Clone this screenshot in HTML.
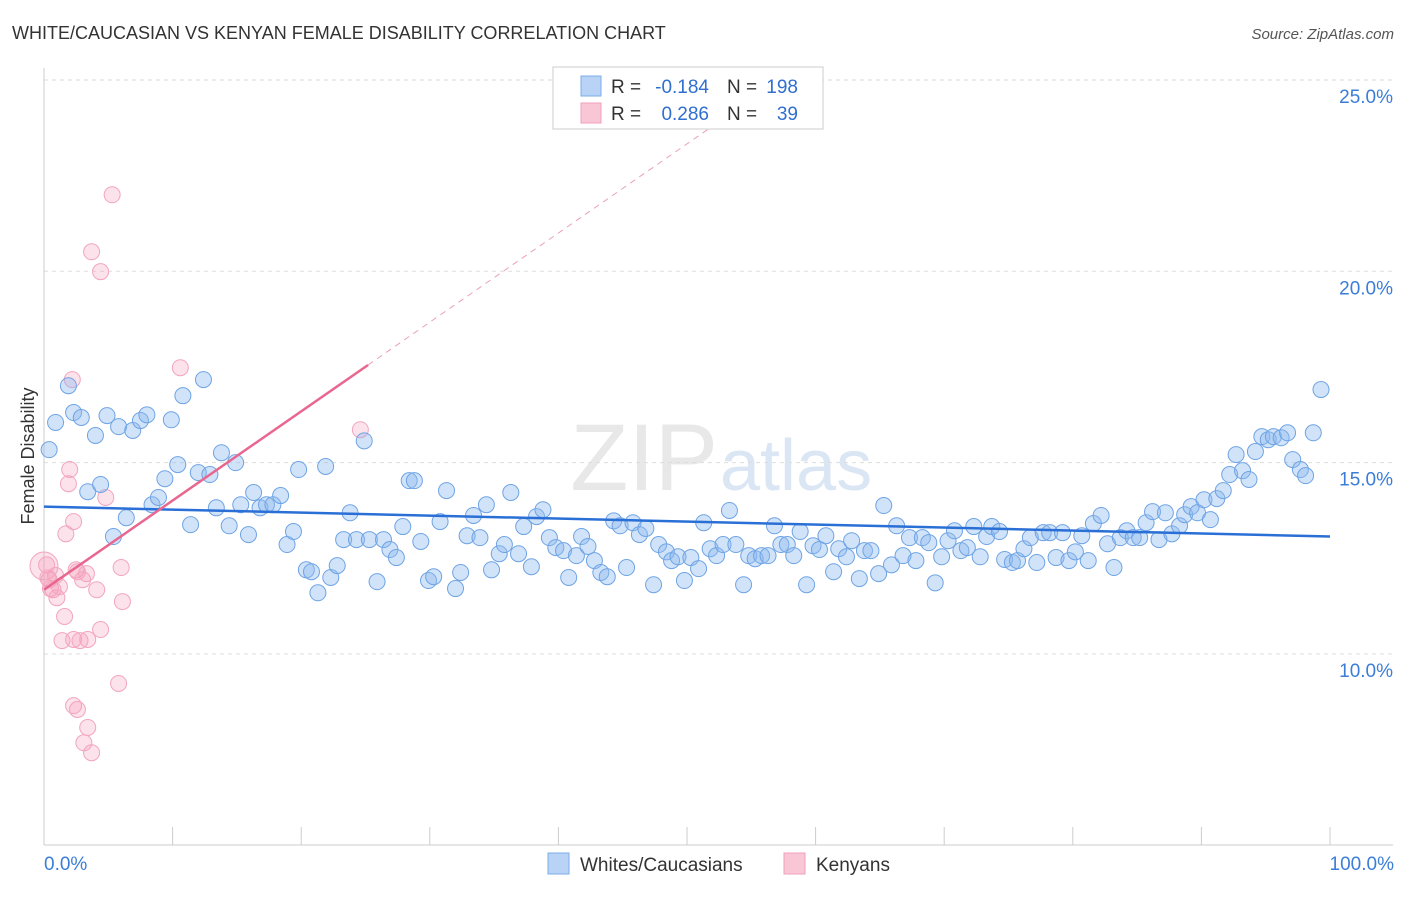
<!DOCTYPE html>
<html><head><meta charset="utf-8"><style>
body{margin:0;background:#fff;font-family:"Liberation Sans",sans-serif;}
svg text{font-family:"Liberation Sans",sans-serif;}
</style></head><body>
<svg id="chart" width="1406" height="892" xmlns="http://www.w3.org/2000/svg">
<text x="12" y="39" font-size="18" fill="#333">WHITE/CAUCASIAN VS KENYAN FEMALE DISABILITY CORRELATION CHART</text>
<text x="1394" y="39" font-size="15" fill="#555" text-anchor="end" font-style="italic">Source: ZipAtlas.com</text>
<text x="718" y="490" font-size="95" fill="#e8e8e8" text-anchor="end" font-family="Liberation Serif">ZIP</text>
<text x="720" y="490" font-size="72" fill="#dbe6f4">atlas</text>
<text transform="translate(34,456) rotate(-90)" font-size="18" fill="#333" text-anchor="middle">Female Disability</text>
<g id="grid"></g><g id="axes"></g><g id="pink"></g><g id="blue"></g><g id="trends"></g>
<g>
<rect x="553" y="67" width="270" height="62" fill="#fff" stroke="#ccc"/>
<rect x="581" y="76" width="20" height="20" fill="#b8d3f5" stroke="#7aaee8"/>
<rect x="581" y="103" width="20" height="20" fill="#f9c6d6" stroke="#f0a0bb"/>
<text x="611" y="93" font-size="19" fill="#333">R =</text>
<text x="709" y="93" font-size="19" fill="#2f6fd0" text-anchor="end">-0.184</text>
<text x="727" y="93" font-size="19" fill="#333">N =</text>
<text x="798" y="93" font-size="19" fill="#2f6fd0" text-anchor="end">198</text>
<text x="611" y="120" font-size="19" fill="#333">R =</text>
<text x="709" y="120" font-size="19" fill="#2f6fd0" text-anchor="end">0.286</text>
<text x="727" y="120" font-size="19" fill="#333">N =</text>
<text x="798" y="120" font-size="19" fill="#2f6fd0" text-anchor="end">39</text>
</g>
<g>
<rect x="548" y="853" width="21" height="21" fill="#b8d3f5" stroke="#7aaee8"/>
<text x="580" y="871" font-size="19" fill="#333">Whites/Caucasians</text>
<rect x="784" y="853" width="21" height="21" fill="#f9c6d6" stroke="#f0a0bb"/>
<text x="816" y="871" font-size="19" fill="#333">Kenyans</text>
</g>
</svg>
<script>
const yTicks=[10,15,20,25];
const yTickLabels=["10.0%","15.0%","20.0%","25.0%"];
const xTickLabels=["0.0%","100.0%"];
const blueX=[0.4,0.9,1.9,2.3,2.9,3.4,4.0,4.4,4.9,5.4,5.8,6.4,6.9,7.5,8.0,8.4,8.9,9.4,9.9,10.4,10.8,11.4,12.4,12.0,12.9,13.4,13.8,14.4,14.9,15.3,15.9,16.3,16.8,17.3,17.8,18.4,18.9,19.4,19.8,20.4,20.8,21.3,21.9,22.3,22.8,23.3,23.8,24.3,24.9,25.3,25.9,26.4,26.9,27.4,27.9,28.4,28.8,29.3,29.9,30.3,30.8,31.3,32.0,32.4,32.9,33.4,33.9,34.4,34.8,35.4,35.8,36.3,36.9,37.3,37.9,38.3,38.8,39.3,39.8,40.4,40.8,41.4,41.8,42.3,42.8,43.3,43.8,44.3,44.8,45.3,45.8,46.3,46.8,47.4,47.8,48.4,48.8,49.3,49.8,50.3,50.9,51.3,51.8,52.3,52.8,53.3,53.8,54.4,54.8,55.3,55.8,56.3,56.8,57.3,57.8,58.3,58.8,59.3,59.8,60.3,60.8,61.4,61.8,62.4,62.8,63.4,63.8,64.3,64.9,65.3,65.9,66.3,66.8,67.3,67.8,68.3,68.8,69.3,69.8,70.3,70.8,71.3,71.8,72.3,72.8,73.3,73.7,74.3,74.7,75.3,75.7,76.2,76.7,77.2,77.7,78.2,78.7,79.2,79.7,80.2,80.7,81.2,81.6,82.2,82.7,83.2,83.7,84.2,84.7,85.2,85.7,86.2,86.7,87.2,87.7,88.3,88.7,89.2,89.7,90.2,90.7,91.2,91.7,92.2,92.7,93.2,93.7,94.2,94.7,95.2,95.6,96.2,96.7,97.1,97.7,98.1,98.7,99.3];
const blueY=[15.34,16.05,17.01,16.31,16.18,14.24,15.71,14.43,16.23,13.07,15.94,13.56,15.84,16.10,16.25,13.90,14.09,14.58,16.12,14.95,16.75,13.38,17.17,14.74,14.69,13.82,15.26,13.35,15.00,13.90,13.12,14.22,13.82,13.90,13.90,14.14,12.86,13.20,14.82,12.20,12.15,11.60,14.90,12.00,12.31,12.99,13.69,12.99,15.57,12.99,11.89,12.99,12.73,12.52,13.33,14.53,14.53,12.94,11.92,12.02,13.46,14.27,11.71,12.13,13.09,13.62,13.04,13.90,12.20,12.62,12.86,14.22,12.62,13.33,12.28,13.59,13.77,13.04,12.78,12.70,12.00,12.57,13.07,12.81,12.44,12.13,12.02,13.48,13.35,12.26,13.43,13.12,13.28,11.81,12.86,12.67,12.44,12.54,11.92,12.52,12.23,13.43,12.75,12.57,12.86,13.75,12.86,11.81,12.57,12.49,12.57,12.57,13.35,12.86,12.86,12.57,13.20,11.81,12.83,12.73,13.09,12.15,12.75,12.54,12.96,11.97,12.70,12.70,12.10,13.88,12.33,13.35,12.57,13.04,12.44,13.04,12.91,11.86,12.54,12.96,13.22,12.70,12.78,13.33,12.54,13.07,13.33,13.20,12.47,12.39,12.44,12.75,13.04,12.39,13.17,13.17,12.52,13.17,12.44,12.67,13.09,12.44,13.41,13.62,12.88,12.26,13.04,13.22,13.04,13.04,13.43,13.72,12.99,13.69,13.14,13.35,13.64,13.85,13.69,14.03,13.51,14.06,14.27,14.69,15.21,14.79,14.56,15.29,15.68,15.60,15.68,15.65,15.78,15.08,14.82,14.66,15.78,16.91];
const pinkX=[0.0,0.2,0.4,0.5,0.7,0.9,1.0,1.2,1.4,1.6,1.7,1.9,2.0,2.2,2.3,2.3,2.3,2.5,2.6,2.6,2.8,3.0,3.1,3.3,3.4,3.4,3.7,3.7,4.1,4.4,4.4,4.8,5.3,5.8,6.0,6.1,10.6,24.6,0.3];
const pinkY=[12.3,12.33,11.94,11.71,11.68,12.05,11.47,11.76,10.35,10.98,13.14,14.45,14.82,17.17,13.46,10.38,8.65,12.20,8.55,12.15,10.35,11.94,7.68,12.10,10.38,8.08,20.51,7.42,11.68,19.99,10.64,14.09,22.00,9.23,12.26,11.37,17.48,15.86,11.99];
const blueTrend=[13.85,13.07];
const pinkTrend=[11.68,0.233];
const NS="http://www.w3.org/2000/svg";
const X0=44,X1=1330,Y10=654,PX5=191.35;
const sx=v=>X0+(X1-X0)*v/100;
const sy=v=>Y10-(v-10)*PX5/5;
function mk(tag,attrs,parent){const e=document.createElementNS(NS,tag);for(const k in attrs)e.setAttribute(k,attrs[k]);parent.appendChild(e);return e;}
const grid=document.getElementById('grid'),axes=document.getElementById('axes');
yTicks.forEach((t,i)=>{
 const l=mk('line',{x1:X0,x2:1393,y1:sy(t),y2:sy(t),stroke:'#ddd','stroke-dasharray':'4,4'},grid);
 
 
 const tx=mk('text',{x:1393,y:sy(t)+23,'font-size':19,fill:'#3b7dd8','text-anchor':'end'},axes);
 tx.textContent=yTickLabels[i];
 
 
});
const ya=mk('line',{x1:X0,x2:X0,y1:68,y2:845,stroke:'#ccc'},axes);


const xa=mk('line',{x1:X0,x2:1393,y1:845,y2:845,stroke:'#ccc'},axes);


for(let i=0;i<=10;i++){const t=mk('line',{x1:sx(i*10),x2:sx(i*10),y1:827,y2:845,stroke:'#ccc'},axes);
 
 }
[[0,'start',44],[100,'end',1394]].forEach((d,i)=>{const t=mk('text',{x:d[2],y:870,'font-size':19,fill:'#3b7dd8','text-anchor':d[1]},axes);t.textContent=xTickLabels[i];
 
 });
const pg=document.getElementById('pink');
pinkX.forEach((x,i)=>{const c=mk('circle',{cx:sx(x),cy:sy(pinkY[i]),r:i==0?14:8,fill:'rgba(245,160,190,0.3)',stroke:'#f2a5be','stroke-width':1},pg);
 
 });
const bg=document.getElementById('blue');
blueX.forEach((x,i)=>{const c=mk('circle',{cx:sx(x),cy:sy(blueY[i]),r:8,fill:'rgba(140,185,240,0.4)',stroke:'#6fa4e4','stroke-width':1},bg);
 
 });
const tg=document.getElementById('trends');
const bt=mk('line',{x1:sx(0),y1:sy(blueTrend[0]),x2:sx(100),y2:sy(blueTrend[1]),stroke:'#2a6fd6','stroke-width':2.5},tg);


const pe=x=>pinkTrend[0]+pinkTrend[1]*x;
const ps=mk('line',{x1:sx(0),y1:sy(pe(0)),x2:sx(25.2),y2:sy(pe(25.2)),stroke:'#e8668f','stroke-width':2.5},tg);


const pd=mk('line',{x1:sx(25.2),y1:sy(pe(25.2)),x2:sx(52.5),y2:sy(pe(52.5)),stroke:'#eaa0b8','stroke-width':1,'stroke-dasharray':'6,5'},tg);


</script>
</body></html>
